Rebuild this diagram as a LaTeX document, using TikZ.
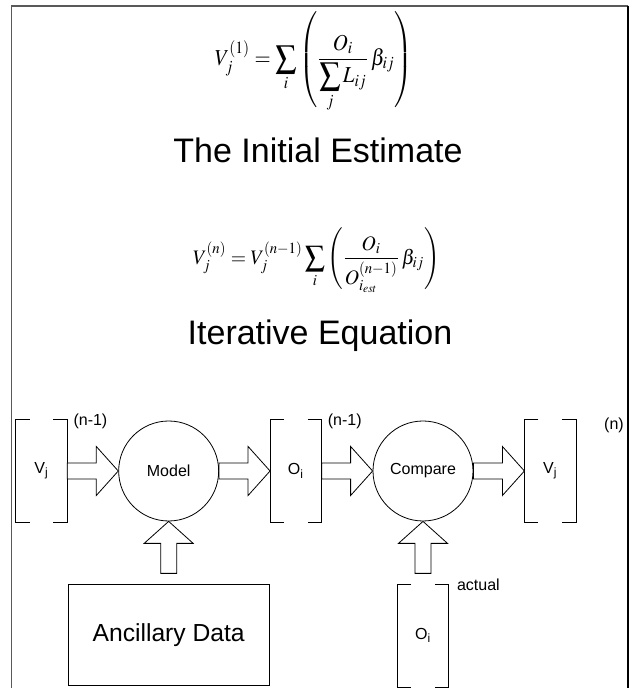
\documentclass[tikz,border=0pt]{standalone}
\usepackage{mathptmx}
\usepackage[no-math]{fontspec}
\setmainfont{Liberation Sans}
\usepackage{graphicx}
\usetikzlibrary{positioning, calc}

% hollow block arrow from #1 to the tip #2
\newcommand{\fatarrow}[2]{%
  \coordinate (fat_base) at ($(#2)!16.5pt!(#1)$);
  \draw[fat] ($(#1)!6pt!90:(#2)$) -- ($(fat_base)!6pt!90:(#2)$) -- ($(fat_base)!18.4pt!90:(#2)$)
    -- (#2) -- ($(fat_base)!18.4pt!-90:(#2)$) -- ($(fat_base)!6pt!-90:(#2)$) -- ($(#1)!6pt!-90:(#2)$) -- cycle;
}

\begin{document}
\begin{tikzpicture}[
  x=0.75pt, y=0.75pt,
  node distance=47.25pt and 38.25pt,
  font=\fontsize{12}{14}\selectfont,
  brk/.style={minimum width=38.25pt, minimum height=76.5pt, inner sep=0pt},
  blob/.style={circle, draw, line width=0.6pt, minimum size=75pt, inner sep=0pt},
  fat/.style={draw, line width=0.6pt, fill=white, line join=miter},
  brkline/.style={draw, line width=0.6pt},
  tag/.style={anchor=west, inner sep=0pt},
  heading/.style={anchor=base, inner sep=0pt, font=\fontsize{25.5}{30}\selectfont}
]
\useasboundingbox (0,0) rectangle (637,688);
% -------------------------------------------------------------------------
% FRAME
% -------------------------------------------------------------------------
\draw[line width=1.4pt, black!65] (11.5,-10) -- (11.5,682.3) -- (628,682.3);
\draw[line width=1.4pt] (628,682.3) -- (628,-10);

% -------------------------------------------------------------------------
% EQUATIONS
% -------------------------------------------------------------------------
\node (eq_init) at (314,626) {\resizebox*{148.5pt}{75pt}{$\displaystyle V_j^{(1)} = \sum_i \left( \frac{O_i}{\displaystyle\sum_j L_{ij}}\, \beta_{ij} \right)$}};
\node[heading] (title_init) at (318,525) {The Initial Estimate};
\node (eq_iter) at (316.5,427.5) {\resizebox*{185pt}{48.75pt}{$\displaystyle V_j^{(n)} = V_j^{(n-1)} \sum_i \left( \frac{O_i}{O_{i_{est}}^{(n-1)}}\, \beta_{ij} \right)$}};
\node[heading] (title_iter) at (320,343) {Iterative Equation};

% -------------------------------------------------------------------------
% ITERATION LOOP
% -------------------------------------------------------------------------
\node[brk] (v_in) at (41.5,217) {V\textsubscript{j}};
\node[blob, right=of v_in] (model) {Model};
\node[brk, right=of model] (o_est) {O\textsubscript{i}};
\node[blob, right=of o_est] (compare) {Compare};
\node[brk, right=of compare] (v_out) {V\textsubscript{j}};
\node[draw, line width=0.6pt, minimum width=150.75pt, minimum height=75.75pt, below=of model, font=\fontsize{18.5}{22}\selectfont] (ancillary) {Ancillary Data};
\node[brk, below=of compare] (o_act) {O\textsubscript{i}};

\node[tag] (sup_in) at ([xshift=4.5pt,yshift=-1.5pt]v_in.north east) {(n-1)};
\node[tag] (sup_est) at ([xshift=4.5pt,yshift=-1.5pt]o_est.north east) {(n-1)};
\node[tag] (sup_out) at ([xshift=21pt,yshift=-4pt]v_out.north east) {(n)};
\node[tag] (sup_act) at ([xshift=6pt]o_act.north east) {actual};

\foreach \b in {v_in,o_est,v_out,o_act}{
  \draw[brkline] ([xshift=10.5pt]\b.north west) -| (\b.south west) -- ++(10.5pt,0);
  \draw[brkline] ([xshift=-10.5pt]\b.north east) -| (\b.south east) -- ++(-10.5pt,0);
}

\fatarrow{v_in.east}{model.west}
\fatarrow{model.east}{o_est.west}
\fatarrow{o_est.east}{compare.west}
\fatarrow{compare.east}{v_out.west}
\coordinate (anc_top) at ($(ancillary.north)+(0,8.25pt)$);
\fatarrow{anc_top}{model.south}
\coordinate (act_top) at ($(o_act.north)+(0,8.25pt)$);
\fatarrow{act_top}{compare.south}
\end{tikzpicture}
\end{document}
